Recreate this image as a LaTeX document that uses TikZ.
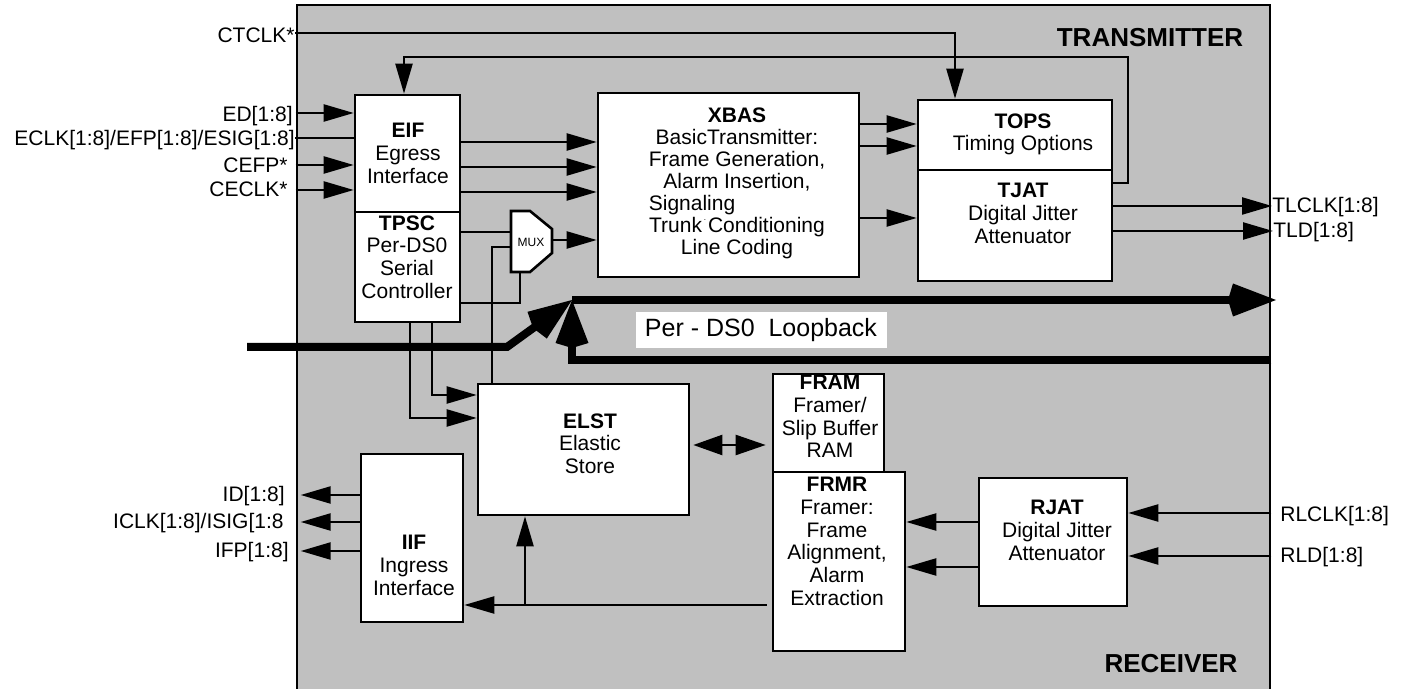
\documentclass[tikz,border=0pt]{standalone}
\usepackage{fontspec}
\setmainfont{Liberation Sans}
\usetikzlibrary{arrows.meta,fit}
\definecolor{panelgray}{HTML}{C0C0C0}
\tikzset{
 box/.style={draw, fill=white, line width=1.3pt, inner sep=0pt},
 txt/.style={align=center, inner sep=0pt, anchor=north, font=\fontsize{10.5}{11.35}\selectfont},
 pin/.style={inner sep=0pt, font=\fontsize{10.5}{12}\selectfont},
 wire/.style={line width=1.15pt},
 arr/.style={wire, -{Triangle[length=15pt,width=8.5pt]}},
 fat/.style={line width=4pt},
 fatarr/.style={fat, -{Kite[length=24pt,width=16.5pt,inset=2.5pt]}},
 title/.style={inner sep=0pt, anchor=base, font=\fontsize{13}{15}\selectfont\bfseries},
}
\begin{document}
\begin{tikzpicture}[x=0.5pt,y=-0.5pt]
\useasboundingbox (0,0) rectangle (1405,689);
\node[fit={(297,5) (1270,700)}, draw, fill=panelgray, line width=1.3pt, inner sep=0pt] (panel) {};

% titles
\node[title] (tx) at (1150,47) {TRANSMITTER};
\node[title] (rx) at (1171,673) {RECEIVER};

% loopback
\coordinate (lbin) at (247,347);
\coordinate (lbk) at (507,347);
\coordinate (lbtip) at (572,300);
\coordinate (lbout) at (1276,300);
\coordinate (lbc) at (572,360);
\draw[fatarr] (lbin) -- (lbk) -- (lbtip);
\draw[fatarr] (lbtip) -- (lbout);
\draw[fatarr] (panel.east |- lbc) -- (lbc) -- (lbtip);
\node[fill=white, minimum width=125.5pt, minimum height=18pt, inner sep=0pt, font=\fontsize{12.5}{14}\selectfont] (lbl) at (761,330) {Per - DS0~~Loopback};

% boxes
\node[box, fit={(355,95) (460,212)}] (eif) {};
\node[box, fit={(355,212) (460,322)}] (tpsc) {};
\node[box, fit={(598,93) (859,277)}] (xbas) {};
\node[box, fit={(918,100) (1112,170)}] (tops) {};
\node[box, fit={(918,170) (1112,281)}] (tjat) {};
\node[box, fit={(478,384) (689,515)}] (elst) {};
\node[box, fit={(773,374) (884,472)}] (fram) {};
\node[box, fit={(773,472) (905,651)}] (frmr) {};
\node[box, fit={(979,478) (1127,606)}] (rjat) {};
\node[box, fit={(361,454) (463,622)}] (iif) {};
\draw[box] (511,211) -- (530,211) -- (552,229) -- (552,253) -- (530,272) -- (511,272) -- cycle;
\node[fit={(511,211) (552,272)}, inner sep=0pt] (mux) {};
\node[inner sep=0pt, font=\fontsize{6}{7}\selectfont] (muxt) at (531,242) {MUX};

% box texts
\node[txt] (eift) at (408,123) {\textbf{EIF}\\Egress\\Interface};
\node[txt] (tpsct) at (407,215) {\textbf{TPSC}\\Per-DS0\\Serial\\Controller};
\node[anchor=north, inner sep=0pt, font=\fontsize{10.5}{11}\selectfont] (xbast) at (737,107)
 {\begin{tabular}{@{}c@{}}\textbf{XBAS}\\ BasicTransmitter:\\ Frame Generation,\\ Alarm Insertion,\\ \multicolumn{1}{@{}l@{}}{Signaling}\\ Trunk\makebox[3pt]{\raisebox{6pt}{\fontsize{4}{4}\selectfont.}}Conditioning\\ Line Coding\end{tabular}};
\node[txt] (topst) at (1023,113) {\textbf{TOPS}\\Timing Options};
\node[txt] (tjatt) at (1023,183) {\textbf{TJAT}\\Digital Jitter\\Attenuator};
\node[txt] (elstt) at (590,413) {\textbf{ELST}\\Elastic\\Store};
\node[txt] (framt) at (830,375) {\textbf{FRAM}\\Framer/\\Slip Buffer\\RAM};
\node[txt] (frmrt) at (837,477) {\textbf{FRMR}\\Framer:\\Frame\\Alignment,\\Alarm\\Extraction};
\node[txt] (rjatt) at (1057,500) {\textbf{RJAT}\\Digital Jitter\\Attenuator};
\node[txt] (iift) at (414,535) {\textbf{IIF}\\Ingress\\Interface};

% pin labels
\node[pin, anchor=base east] (ctclk) at (295,43) {CTCLK*};
\node[pin, anchor=base east] (ed) at (293,122) {ED[1:8]};
\node[pin, anchor=base east] (eclk) at (295,146) {ECLK[1:8]/EFP[1:8]/ESIG[1:8]};
\node[pin, anchor=base east] (cefp) at (288,173) {CEFP*};
\node[pin, anchor=base east] (ceclk) at (288,197) {CECLK*};
\node[pin, anchor=base west] (tlclk) at (1272,213) {TLCLK[1:8]};
\node[pin, anchor=base west] (tld) at (1273,238) {TLD[1:8]};
\node[pin, anchor=base west] (rlclk) at (1280,522) {RLCLK[1:8]};
\node[pin, anchor=base west] (rld) at (1280,563) {RLD[1:8]};
\node[pin, anchor=base east] (id) at (285,502) {ID[1:8]};
\node[pin, anchor=base east] (iclk) at (284,529) {ICLK[1:8]/ISIG[1:8};
\node[pin, anchor=base east] (ifp) at (289,558) {IFP[1:8]};

% CTCLK
\coordinate (ctc) at (955,33);
\draw[arr] (ctclk.east |- ctc) -- (ctc) -- (ctc |- tops.north);
% feedback TJAT -> EIF
\coordinate (fb1) at (1128,183);
\coordinate (fb2) at (1128,57);
\coordinate (fb3) at (404,57);
\draw[arr] (tjat.east |- fb1) -- (fb1) -- (fb2) -- (fb3) -- (fb3 |- eif.north);
% EIF inputs
\draw[arr] (panel.west |- 0,113) -- (eif.west |- 0,113);
\draw[wire] (eclk.east |- 0,138) -- (eif.west |- 0,138);
\draw[arr] (panel.west |- 0,165) -- (eif.west |- 0,165);
\draw[arr] (panel.west |- 0,190) -- (eif.west |- 0,190);
% EIF -> XBAS
\foreach \yy in {142,167,192} {\draw[arr] (eif.east |- 0,\yy) -- (xbas.west |- 0,\yy);}
% XBAS -> TOPS / TJAT
\foreach \yy in {124,146} {\draw[arr] (xbas.east |- 0,\yy) -- (tops.west |- 0,\yy);}
\draw[arr] (xbas.east |- 0,218) -- (tjat.west |- 0,218);
% TJAT outputs
\draw[arr] (tjat.east |- 0,206) -- (tlclk.west |- 0,206);
\draw[arr] (tjat.east |- 0,231) -- (tld.west |- 0,231);
% TPSC -> MUX
\draw[wire] (tpsc.east |- 0,232) -- (mux.west |- 0,232);
\coordinate (mb) at (520,303);
\draw[wire] (tpsc.east |- mb) -- (mb) -- (mb |- mux.south);
% ELST -> MUX
\coordinate (em) at (492,247);
\draw[wire] (em |- elst.north) -- (em) -- (em -| mux.west);
% MUX -> XBAS
\draw[arr] (mux.east |- 0,240) -- (xbas.west |- 0,240);
% TPSC -> ELST
\coordinate (t1) at (432,395);
\coordinate (t2) at (410,418);
\draw[arr] (t1 |- tpsc.south) -- (t1) -- (t1 -| elst.west);
\draw[arr] (t2 |- tpsc.south) -- (t2) -- (t2 -| elst.west);
% ELST <-> FRAM
\draw[wire, {Triangle[length=14.5pt,width=10pt]}-{Triangle[length=15pt,width=10pt]}, shorten <=1.5pt, shorten >=3pt] (elst.east |- 0,445) -- (fram.west |- 0,445);
% FRMR -> IIF, branch -> ELST
\coordinate (br) at (525,605);
\draw[arr, shorten <=2.5pt] (frmr.west |- br) -- (iif.east |- br);
\draw[arr] (br) -- (br |- elst.south);
% RJAT -> FRMR
\draw[arr] (rjat.west |- 0,522) -- (frmr.east |- 0,522);
\draw[arr] (rjat.west |- 0,567) -- (frmr.east |- 0,567);
% RL inputs
\draw[arr] (panel.east |- 0,513) -- (rjat.east |- 0,513);
\draw[arr] (panel.east |- 0,556) -- (rjat.east |- 0,556);
% IIF outputs
\draw[arr, shorten >=2.5pt] (iif.west |- 0,495) -- (panel.west |- 0,495);
\draw[arr, shorten >=2.5pt] (iif.west |- 0,522) -- (panel.west |- 0,522);
\draw[arr, shorten >=2.5pt] (iif.west |- 0,551) -- (panel.west |- 0,551);
\end{tikzpicture}
\end{document}
